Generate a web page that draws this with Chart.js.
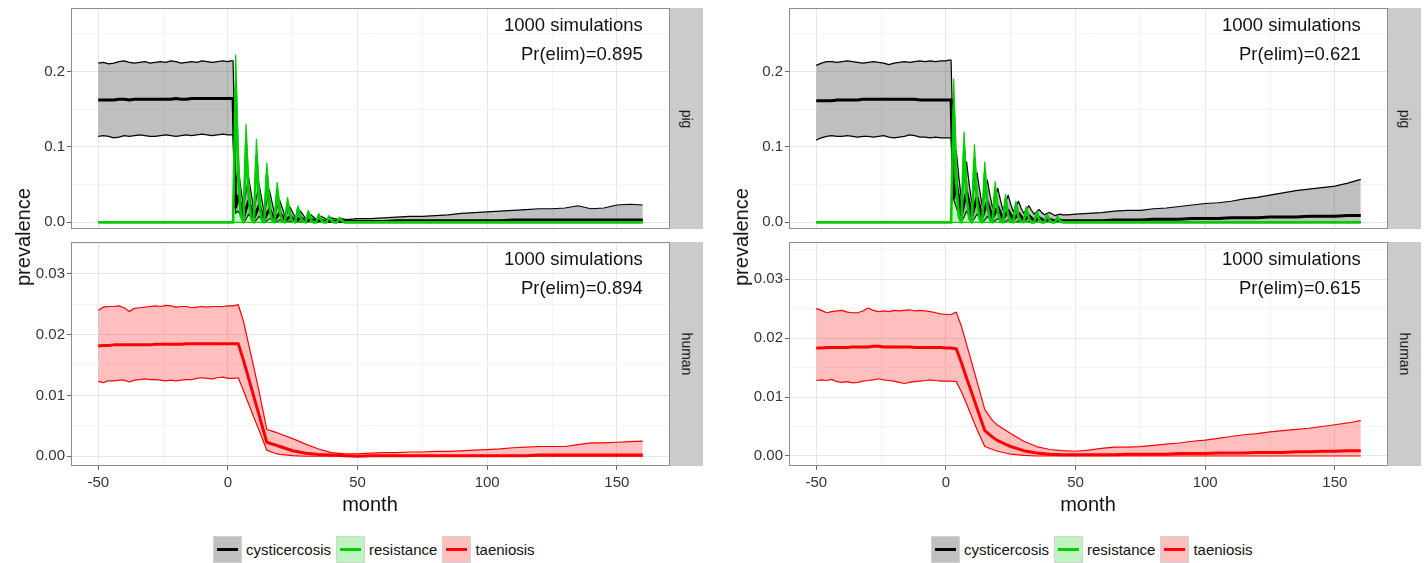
<!DOCTYPE html>
<html>
<head>
<meta charset="utf-8">
<script src="https://cdn.jsdelivr.net/npm/chart.js@4.4.1/dist/chart.umd.min.js"></script>
<style>
  html, body { margin:0; padding:0; background:#fff; }
  body { width:1427px; height:563px; position:relative; overflow:hidden;
         font-family:"Liberation Sans", Arial, Helvetica, sans-serif; color:#111; }
  canvas { position:absolute; }
  .ylab { position:absolute; white-space:nowrap; font-size:20px; line-height:1;
          transform:translate(-50%,-50%) rotate(-90deg); }
  .xlab { position:absolute; white-space:nowrap; font-size:20px; line-height:1;
          transform:translate(-50%,-50%); }
  .strip { position:absolute; background:#cbcbcb; }
  .strip span { position:absolute; left:50%; top:50%; white-space:nowrap; font-size:14px; line-height:1;
                color:#1a1a1a; transform:translate(-50%,-50%) rotate(90deg); }
  .legend { position:absolute; display:flex; align-items:center; height:26px; font-size:15px; color:#111; }
  .key { width:27px; height:25px; border:1px solid #d2d2d2; position:relative; margin-right:4px; }
  .key i { position:absolute; left:3px; right:3px; top:11px; height:3px; }
  .lab { margin-right:5px; }
</style>
</head>
<body>
<canvas id="pigA" width="671" height="229" style="left:0px;top:0px;width:671px;height:229px"></canvas>
<canvas id="humA" width="671" height="262" style="left:0px;top:233px;width:671px;height:262px"></canvas>
<canvas id="pigB" width="671" height="229" style="left:718px;top:0px;width:671px;height:229px"></canvas>
<canvas id="humB" width="671" height="262" style="left:718px;top:233px;width:671px;height:262px"></canvas>

<div class="strip" style="left:670px;top:8px;width:33px;height:221px"><span>pig</span></div>
<div class="strip" style="left:670px;top:242px;width:33px;height:224px"><span>human</span></div>
<div class="strip" style="left:1388px;top:8px;width:33px;height:221px"><span>pig</span></div>
<div class="strip" style="left:1388px;top:242px;width:33px;height:224px"><span>human</span></div>

<div class="ylab" style="left:23px;top:237px">prevalence</div>
<div class="ylab" style="left:741px;top:237px">prevalence</div>
<div class="xlab" style="left:370px;top:504px">month</div>
<div class="xlab" style="left:1088px;top:504px">month</div>

<div class="legend" id="legA" style="left:213px;top:536px"></div>
<div class="legend" id="legB" style="left:931px;top:536px"></div>

<script>
// ---------------- DATA ----------------
const xTicks = [-50, 0, 50, 100, 150];
const xMinor = [-25, 25, 75, 125];
const pigTicks = [0, 0.1, 0.2];
const pigMinor = [0.05, 0.15, 0.25];
const humanTicks = [0, 0.01, 0.02, 0.03];
const humanMinor = [0.005, 0.015, 0.025, 0.035];

const legendNames = ['cysticercosis', 'resistance', 'taeniosis'];
const annotA = ['1000 simulations', 'Pr(elim)=0.895', '1000 simulations', 'Pr(elim)=0.894'];
const annotB = ['1000 simulations', 'Pr(elim)=0.621', '1000 simulations', 'Pr(elim)=0.615'];

const monthsPig = [-50,-48,-46,-44,-42,-40,-38,-36,-34,-32,-30,-28,-26,-24,-22,-20,-18,-16,-14,-12,-10,-8,-6,-4,-2,0,
  1,2,3,4,5,6,7,8,9,10,11,12,13,14,15,16,17,18,19,20,21,22,23,24,25,26,27,28,29,30,31,32,33,34,35,36,37,38,39,40,41,42,43,44,45,46,47,
  50,55,60,65,70,75,80,85,90,95,100,105,110,115,120,125,130,135,140,145,150,155,160];

const monthsHuman = [-50,-48,-46,-44,-42,-40,-38,-36,-34,-32,-30,-28,-26,-24,-22,-20,-18,-16,-14,-12,-10,-8,-6,-4,-2,0,
  2,4,6,8,10,12,15,18,20,25,30,35,40,45,50,55,60,65,70,75,80,85,90,95,100,105,110,115,120,125,130,135,140,145,150,155,160];

const resLowerMonths = [-50, 160];
const resLowerVals = [0, 0];

// ----- scenario A (left) : pig -----
const pigCystUpperA = [0.211,0.212,0.210,0.211,0.213,0.214,0.212,0.211,0.212,0.213,0.211,0.212,0.213,0.212,0.214,0.213,0.211,0.212,0.213,0.212,0.214,0.213,0.212,0.213,0.214,0.213,
  0.214,0.214,
  0.050,0.073,0.045,0.020, 0.040,0.060,0.038,0.016, 0.033,0.051,0.032,0.013, 0.027,0.043,0.027,0.011, 0.019,0.029,0.019,0.008,
  0.013,0.020,0.013,0.006, 0.010,0.015,0.010,0.005, 0.007,0.010,0.007,0.004, 0.006,0.008,0.006,0.004, 0.005,0.006,0.005,0.004,
  0.004,0.005,0.004,0.004, 0.004,
  0.005,0.005,0.006,0.007,0.008,0.008,0.009,0.010,0.012,0.013,0.014,0.015,0.016,0.017,0.018,0.018,0.019,0.022,0.018,0.019,0.023,0.024,0.023];
const pigCystMedA = [0.162,0.162,0.162,0.162,0.163,0.163,0.162,0.163,0.163,0.163,0.163,0.163,0.163,0.163,0.163,0.164,0.163,0.163,0.164,0.164,0.164,0.164,0.164,0.164,0.164,0.164,
  0.164,0.164,
  0.020,0.035,0.022,0.006, 0.018,0.028,0.018,0.005, 0.014,0.022,0.014,0.004, 0.011,0.017,0.011,0.003, 0.008,0.012,0.008,0.002,
  0.005,0.008,0.005,0.002, 0.004,0.006,0.004,0.001, 0.003,0.004,0.003,0.001, 0.002,0.003,0.002,0.001, 0.001,0.002,0.001,0.001,
  0.001,0.001,0.001,0.001, 0.001,
  0.001,0.001,0.001,0.002,0.002,0.002,0.002,0.002,0.002,0.002,0.002,0.002,0.003,0.003,0.003,0.003,0.003,0.003,0.003,0.003,0.003,0.003,0.003];
const pigCystLowerA = [0.114,0.115,0.114,0.112,0.113,0.115,0.114,0.115,0.116,0.115,0.114,0.114,0.115,0.116,0.115,0.114,0.115,0.116,0.115,0.116,0.117,0.116,0.115,0.116,0.117,0.116,
  0.116,0.116,
  0.012,0.015,0.008,0, 0.004,0.011,0.006,0, 0.003,0.008,0.004,0, 0.002,0.005,0.003,0, 0.001,0.003,0.001,0,
  0,0.002,0,0, 0,0.001,0,0, 0,0,0,0, 0,0,0,0, 0,0,0,0,
  0,0,0,0, 0,
  0,0,0,0,0,0,0,0,0,0,0,0,0,0,0,0,0,0,0,0,0,0,0];
const pigResUpperA = [0,0,0,0,0,0,0,0,0,0,0,0,0,0,0,0,0,0,0,0,0,0,0,0,0,0,
  0,0,
  0.222,0.100,0.022,0, 0.130,0.058,0.013,0, 0.110,0.050,0.011,0, 0.079,0.036,0.008,0, 0.053,0.024,0.005,0,
  0.033,0.015,0.003,0, 0.022,0.010,0.002,0, 0.016,0.007,0.002,0, 0.012,0.005,0.001,0, 0.009,0.004,0.001,0,
  0.007,0.003,0.001,0, 0,
  0,0,0,0,0,0,0,0,0,0,0,0,0,0,0,0,0,0,0,0,0,0,0];
const pigResMedA = [0,0,0,0,0,0,0,0,0,0,0,0,0,0,0,0,0,0,0,0,0,0,0,0,0,0,
  0,0,
  0.180,0.060,0.008,0, 0.105,0.035,0.005,0, 0.088,0.029,0.004,0, 0.063,0.021,0.003,0, 0.042,0.014,0.002,0,
  0.026,0.009,0.001,0, 0.018,0.006,0.001,0, 0.013,0.004,0,0, 0.009,0.003,0,0, 0.007,0.002,0,0,
  0.005,0.002,0,0, 0,
  0,0,0,0,0,0,0,0,0,0,0,0,0,0,0,0,0,0,0,0,0,0,0];

// ----- scenario B (right) : pig -----
const pigCystUpperB = [0.208,0.211,0.213,0.213,0.212,0.213,0.214,0.213,0.212,0.211,0.212,0.213,0.212,0.211,0.209,0.211,0.212,0.213,0.212,0.213,0.214,0.213,0.214,0.213,0.214,0.214,
  0.215,0.215,
  0.075,0.095,0.060,0.030, 0.055,0.080,0.050,0.026, 0.048,0.066,0.043,0.022, 0.040,0.056,0.036,0.019, 0.032,0.045,0.030,0.016,
  0.026,0.036,0.024,0.014, 0.021,0.028,0.019,0.012, 0.017,0.022,0.016,0.011, 0.014,0.017,0.013,0.010, 0.012,0.013,0.011,0.009,
  0.010,0.011,0.010,0.010, 0.010,
  0.011,0.012,0.013,0.015,0.016,0.016,0.018,0.019,0.021,0.023,0.025,0.026,0.028,0.031,0.033,0.036,0.039,0.042,0.044,0.046,0.048,0.052,0.057];
const pigCystMedB = [0.161,0.161,0.161,0.161,0.162,0.162,0.162,0.162,0.162,0.163,0.163,0.163,0.163,0.163,0.163,0.163,0.163,0.163,0.163,0.163,0.162,0.162,0.162,0.162,0.162,0.162,
  0.162,0.162,
  0.032,0.050,0.032,0.010, 0.026,0.040,0.026,0.008, 0.021,0.033,0.021,0.007, 0.017,0.027,0.017,0.006, 0.013,0.021,0.013,0.005,
  0.010,0.016,0.010,0.004, 0.007,0.012,0.008,0.003, 0.005,0.009,0.006,0.002, 0.004,0.006,0.004,0.002, 0.003,0.004,0.003,0.002,
  0.002,0.003,0.002,0.002, 0.002,
  0.002,0.002,0.002,0.003,0.003,0.003,0.004,0.004,0.004,0.005,0.005,0.005,0.006,0.006,0.006,0.007,0.007,0.007,0.008,0.008,0.008,0.009,0.009];
const pigCystLowerB = [0.109,0.112,0.114,0.115,0.114,0.114,0.115,0.114,0.113,0.114,0.114,0.113,0.114,0.115,0.113,0.112,0.113,0.114,0.116,0.115,0.113,0.113,0.112,0.113,0.112,0.112,
  0.112,0.112,
  0.030,0.020,0.010,0.001, 0.007,0.015,0.008,0.001, 0.005,0.011,0.006,0, 0.003,0.008,0.004,0, 0.002,0.005,0.002,0,
  0.001,0.003,0.001,0, 0,0.002,0.001,0, 0,0.001,0,0, 0,0,0,0, 0,0,0,0,
  0,0,0,0, 0,
  0,0,0,0,0,0,0,0,0,0,0,0,0,0,0,0,0,0,0,0,0,0,0];
const pigResUpperB = [0,0,0,0,0,0,0,0,0,0,0,0,0,0,0,0,0,0,0,0,0,0,0,0,0,0,
  0,0,
  0.190,0.086,0.019,0, 0.120,0.054,0.012,0, 0.103,0.046,0.010,0, 0.080,0.036,0.008,0, 0.054,0.024,0.005,0,
  0.037,0.017,0.004,0, 0.028,0.013,0.003,0, 0.021,0.009,0.002,0, 0.015,0.007,0.002,0, 0.011,0.005,0.001,0,
  0.008,0.004,0.001,0, 0,
  0,0,0,0,0,0,0,0,0,0,0,0,0,0,0,0,0,0,0,0,0,0,0];
const pigResMedB = [0,0,0,0,0,0,0,0,0,0,0,0,0,0,0,0,0,0,0,0,0,0,0,0,0,0,
  0,0,
  0.155,0.052,0.007,0, 0.098,0.033,0.005,0, 0.084,0.028,0.004,0, 0.065,0.022,0.003,0, 0.044,0.015,0.002,0,
  0.030,0.010,0.001,0, 0.023,0.008,0.001,0, 0.017,0.006,0,0, 0.012,0.004,0,0, 0.009,0.003,0,0,
  0.006,0.002,0,0, 0,
  0,0,0,0,0,0,0,0,0,0,0,0,0,0,0,0,0,0,0,0,0,0,0];

// ----- scenario A (left) : human -----
const humTaenUpperA = [0.0240,0.0245,0.0246,0.0246,0.0247,0.0244,0.0238,0.0243,0.0244,0.0245,0.0246,0.0247,0.0246,0.0248,0.0247,0.0245,0.0246,0.0246,0.0244,0.0245,0.0246,0.0245,0.0246,0.0246,0.0246,0.0247,
  0.0247,0.0249,0.0222,0.0184,0.0146,0.0107,0.0044,0.0040,0.0037,
  0.0029,0.0020,0.0012,0.0006,0.0004,0.0004,0.0005,0.0006,0.0006,0.0007,0.0007,0.0008,0.0008,0.0009,0.0010,0.0011,0.0012,0.0014,0.0015,0.0016,0.0016,0.0016,0.0019,0.0022,0.0022,0.0023,0.0024,0.0025];
const humTaenMedA = [0.0181,0.0182,0.0182,0.0183,0.0183,0.0183,0.0183,0.0183,0.0183,0.0183,0.0183,0.0184,0.0184,0.0184,0.0184,0.0184,0.0184,0.0185,0.0185,0.0185,0.0185,0.0185,0.0185,0.0185,0.0185,0.0185,
  0.0185,0.0185,0.0158,0.0128,0.0098,0.0068,0.0023,0.0019,0.0016,
  0.0009,0.0005,0.0003,0.0002,0.0001,0.0000,0.0001,0.0001,0.0001,0.0001,0.0001,0.0001,0.0001,0.0001,0.0001,0.0001,0.0001,0.0001,0.0001,0.0002,0.0002,0.0002,0.0002,0.0002,0.0002,0.0002,0.0002,0.0002];
const humTaenLowerA = [0.0123,0.0121,0.0124,0.0124,0.0125,0.0125,0.0122,0.0125,0.0126,0.0127,0.0126,0.0126,0.0125,0.0124,0.0125,0.0124,0.0125,0.0126,0.0126,0.0128,0.0129,0.0128,0.0127,0.0129,0.0130,0.0128,
  0.0128,0.0129,0.0108,0.0086,0.0064,0.0043,0.0010,0.0005,0.0003,
  0.0001,0,0,0,0,0,0,0,0,0,0,0,0,0,0,0,0,0,0,0,0,0,0,0,0,0,0,0];

// ----- scenario B (right) : human -----
const humTaenUpperB = [0.0250,0.0247,0.0243,0.0245,0.0246,0.0247,0.0244,0.0243,0.0243,0.0246,0.0251,0.0247,0.0245,0.0246,0.0245,0.0247,0.0246,0.0247,0.0248,0.0246,0.0247,0.0246,0.0245,0.0243,0.0241,0.0240,
  0.0240,0.0244,0.0220,0.0189,0.0158,0.0126,0.0079,0.0060,0.0052,
  0.0038,0.0025,0.0016,0.0011,0.0009,0.0008,0.0010,0.0013,0.0015,0.0015,0.0016,0.0018,0.0020,0.0022,0.0025,0.0027,0.0030,0.0033,0.0036,0.0038,0.0041,0.0043,0.0045,0.0047,0.0050,0.0053,0.0056,0.0060];
const humTaenMedB = [0.0183,0.0183,0.0184,0.0184,0.0184,0.0184,0.0184,0.0185,0.0185,0.0185,0.0185,0.0186,0.0186,0.0185,0.0185,0.0185,0.0185,0.0185,0.0185,0.0184,0.0184,0.0184,0.0184,0.0184,0.0184,0.0183,
  0.0183,0.0182,0.0158,0.0132,0.0107,0.0081,0.0043,0.0032,0.0026,
  0.0016,0.0009,0.0005,0.0003,0.0002,0.0002,0.0002,0.0002,0.0002,0.0003,0.0003,0.0003,0.0003,0.0004,0.0004,0.0004,0.0005,0.0005,0.0005,0.0006,0.0006,0.0006,0.0007,0.0007,0.0008,0.0008,0.0009,0.0009];
const humTaenLowerB = [0.0128,0.0129,0.0128,0.0130,0.0126,0.0125,0.0126,0.0124,0.0125,0.0127,0.0128,0.0129,0.0131,0.0129,0.0128,0.0127,0.0125,0.0123,0.0125,0.0126,0.0127,0.0128,0.0129,0.0128,0.0127,0.0127,
  0.0127,0.0126,0.0109,0.0088,0.0066,0.0045,0.0016,0.0011,0.0008,
  0.0003,0.0001,0,0,0,0,0,0,0,0,0,0,0,0,0,0,0,0,0,0,0,0,0,0,0,0,0,0];

// ---------------- STYLE ----------------
const FONT = '"Liberation Sans", Arial, Helvetica, sans-serif';
const BLACK = '#000000', GREEN = '#00cd00', RED = '#ff0000';
const FILL_C = 'rgba(0,0,0,0.25)', FILL_R = 'rgba(0,205,0,0.22)', FILL_T = 'rgba(255,0,0,0.25)';
const MAJOR = '#e6e6e6', MINOR = '#f4f4f4';
const THIN = 1.2, THICK = 3;
const XMIN = -60.5, XMAX = 170.5;

Chart.defaults.font.family = FONT;

function pts(xs, ys) { return xs.map((x, i) => ({ x: x, y: ys[i] })); }
function setTicks(vals) { return function (s) { s.ticks = vals.map(v => ({ value: v })); }; }
function noPad(s) { s.paddingTop = 0; s.paddingBottom = 0; s.paddingLeft = 0; s.paddingRight = 0; }

function decor(lines) {
  return {
    id: 'decor',
    afterDatasetsDraw(chart) {
      const ctx = chart.ctx, a = chart.chartArea;
      ctx.save();
      ctx.strokeStyle = '#8e8e8e';
      ctx.lineWidth = 1;
      ctx.strokeRect(a.left + 0.5, a.top + 0.5, a.right - a.left - 1, a.bottom - a.top - 1);
      ctx.fillStyle = '#111';
      ctx.font = '18.5px ' + FONT;
      ctx.textAlign = 'right';
      ctx.textBaseline = 'middle';
      const x = chart.scales.x.getPixelForValue(160);
      ctx.fillText(lines[0], x, a.top + 18);
      ctx.fillText(lines[1], x, a.top + 47);
      ctx.restore();
    }
  };
}

function makeOptions(showX, padTop, ymin, ymax, yTicks, yMinor, dec) {
  return {
    responsive: false, animation: false, devicePixelRatio: 1,
    layout: { padding: { top: padTop, right: 1, left: 0, bottom: 0 }, autoPadding: false },
    elements: { point: { radius: 0 }, line: { tension: 0, borderJoinStyle: 'round', borderCapStyle: 'butt' } },
    plugins: { legend: { display: false }, tooltip: { enabled: false } },
    scales: {
      x: {
        type: 'linear', position: 'bottom', min: XMIN, max: XMAX,
        afterBuildTicks: setTicks(xTicks),
        afterFit: s => { s.height = showX ? 29 : 0; noPad(s); },
        ticks: { display: showX, font: { size: 15 }, color: '#333', padding: 4, maxRotation: 0, autoSkip: false },
        grid: { color: MAJOR, lineWidth: 1, drawTicks: showX, tickLength: 4, tickColor: '#666' },
        border: { display: false }
      },
      xm: {
        type: 'linear', position: 'bottom', min: XMIN, max: XMAX,
        afterBuildTicks: setTicks(xMinor),
        afterFit: s => { s.height = 0; noPad(s); },
        ticks: { display: false },
        grid: { color: MINOR, lineWidth: 1, drawTicks: false },
        border: { display: false }
      },
      y: {
        type: 'linear', position: 'left', min: ymin, max: ymax,
        afterBuildTicks: setTicks(yTicks),
        afterFit: s => { s.width = 71; noPad(s); },
        ticks: { font: { size: 15 }, color: '#333', padding: 2, callback: v => Number(v).toFixed(dec) },
        grid: { color: MAJOR, lineWidth: 1, drawTicks: true, tickLength: 4, tickColor: '#666' },
        border: { display: false }
      },
      ym: {
        type: 'linear', position: 'left', min: ymin, max: ymax,
        afterBuildTicks: setTicks(yMinor),
        afterFit: s => { s.width = 0; noPad(s); },
        ticks: { display: false },
        grid: { color: MINOR, lineWidth: 1, drawTicks: false },
        border: { display: false }
      }
    }
  };
}

function pigChart(id, up, low, med, rUp, rMed, lines) {
  new Chart(document.getElementById(id), {
    type: 'line',
    data: {
      datasets: [
        { label: 'cyst upper', data: pts(monthsPig, up), borderColor: BLACK, borderWidth: THIN, fill: 1, backgroundColor: FILL_C, order: 9 },
        { label: 'cyst lower', data: pts(monthsPig, low), borderColor: BLACK, borderWidth: THIN, fill: false, order: 8 },
        { label: 'res upper', data: pts(monthsPig, rUp), borderColor: GREEN, borderWidth: THIN, fill: { value: 0 }, backgroundColor: FILL_R, order: 7 },
        { label: 'res lower', data: pts(resLowerMonths, resLowerVals), borderColor: GREEN, borderWidth: THIN, fill: false, order: 6 },
        { label: 'cyst median', data: pts(monthsPig, med), borderColor: BLACK, borderWidth: THICK, fill: false, order: 5 },
        { label: 'res median', data: pts(monthsPig, rMed), borderColor: GREEN, borderWidth: 2.6, fill: false, order: 4 }
      ]
    },
    options: makeOptions(false, 8, -0.0088, 0.284, pigTicks, pigMinor, 1),
    plugins: [decor(lines)]
  });
}

function humanChart(id, up, low, med, ymin, ymax, lines) {
  new Chart(document.getElementById(id), {
    type: 'line',
    data: {
      datasets: [
        { label: 'taen upper', data: pts(monthsHuman, up), borderColor: RED, borderWidth: THIN, fill: 1, backgroundColor: FILL_T, order: 9 },
        { label: 'taen lower', data: pts(monthsHuman, low), borderColor: RED, borderWidth: THIN, fill: false, order: 8 },
        { label: 'taen median', data: pts(monthsHuman, med), borderColor: RED, borderWidth: THICK, fill: false, order: 5 }
      ]
    },
    options: makeOptions(true, 9, ymin, ymax, humanTicks, humanMinor, 2),
    plugins: [decor(lines)]
  });
}

pigChart('pigA', pigCystUpperA, pigCystLowerA, pigCystMedA, pigResUpperA, pigResMedA, annotA.slice(0, 2));
humanChart('humA', humTaenUpperA, humTaenLowerA, humTaenMedA, -0.0016, 0.0352, annotA.slice(2, 4));
pigChart('pigB', pigCystUpperB, pigCystLowerB, pigCystMedB, pigResUpperB, pigResMedB, annotB.slice(0, 2));
humanChart('humB', humTaenUpperB, humTaenLowerB, humTaenMedB, -0.0017, 0.0363, annotB.slice(2, 4));

// legend (HTML)
const keyFill = ['#bfbfbf', '#bff3bf', '#ffbfbf'];
const keyLine = [BLACK, GREEN, RED];
function buildLegend(id) {
  const el = document.getElementById(id);
  legendNames.forEach((n, i) => {
    const k = document.createElement('div');
    k.className = 'key';
    k.style.background = keyFill[i];
    const ln = document.createElement('i');
    ln.style.background = keyLine[i];
    k.appendChild(ln);
    const t = document.createElement('span');
    t.className = 'lab';
    t.textContent = n;
    el.appendChild(k);
    el.appendChild(t);
  });
}
buildLegend('legA');
buildLegend('legB');
</script>
</body>
</html>
